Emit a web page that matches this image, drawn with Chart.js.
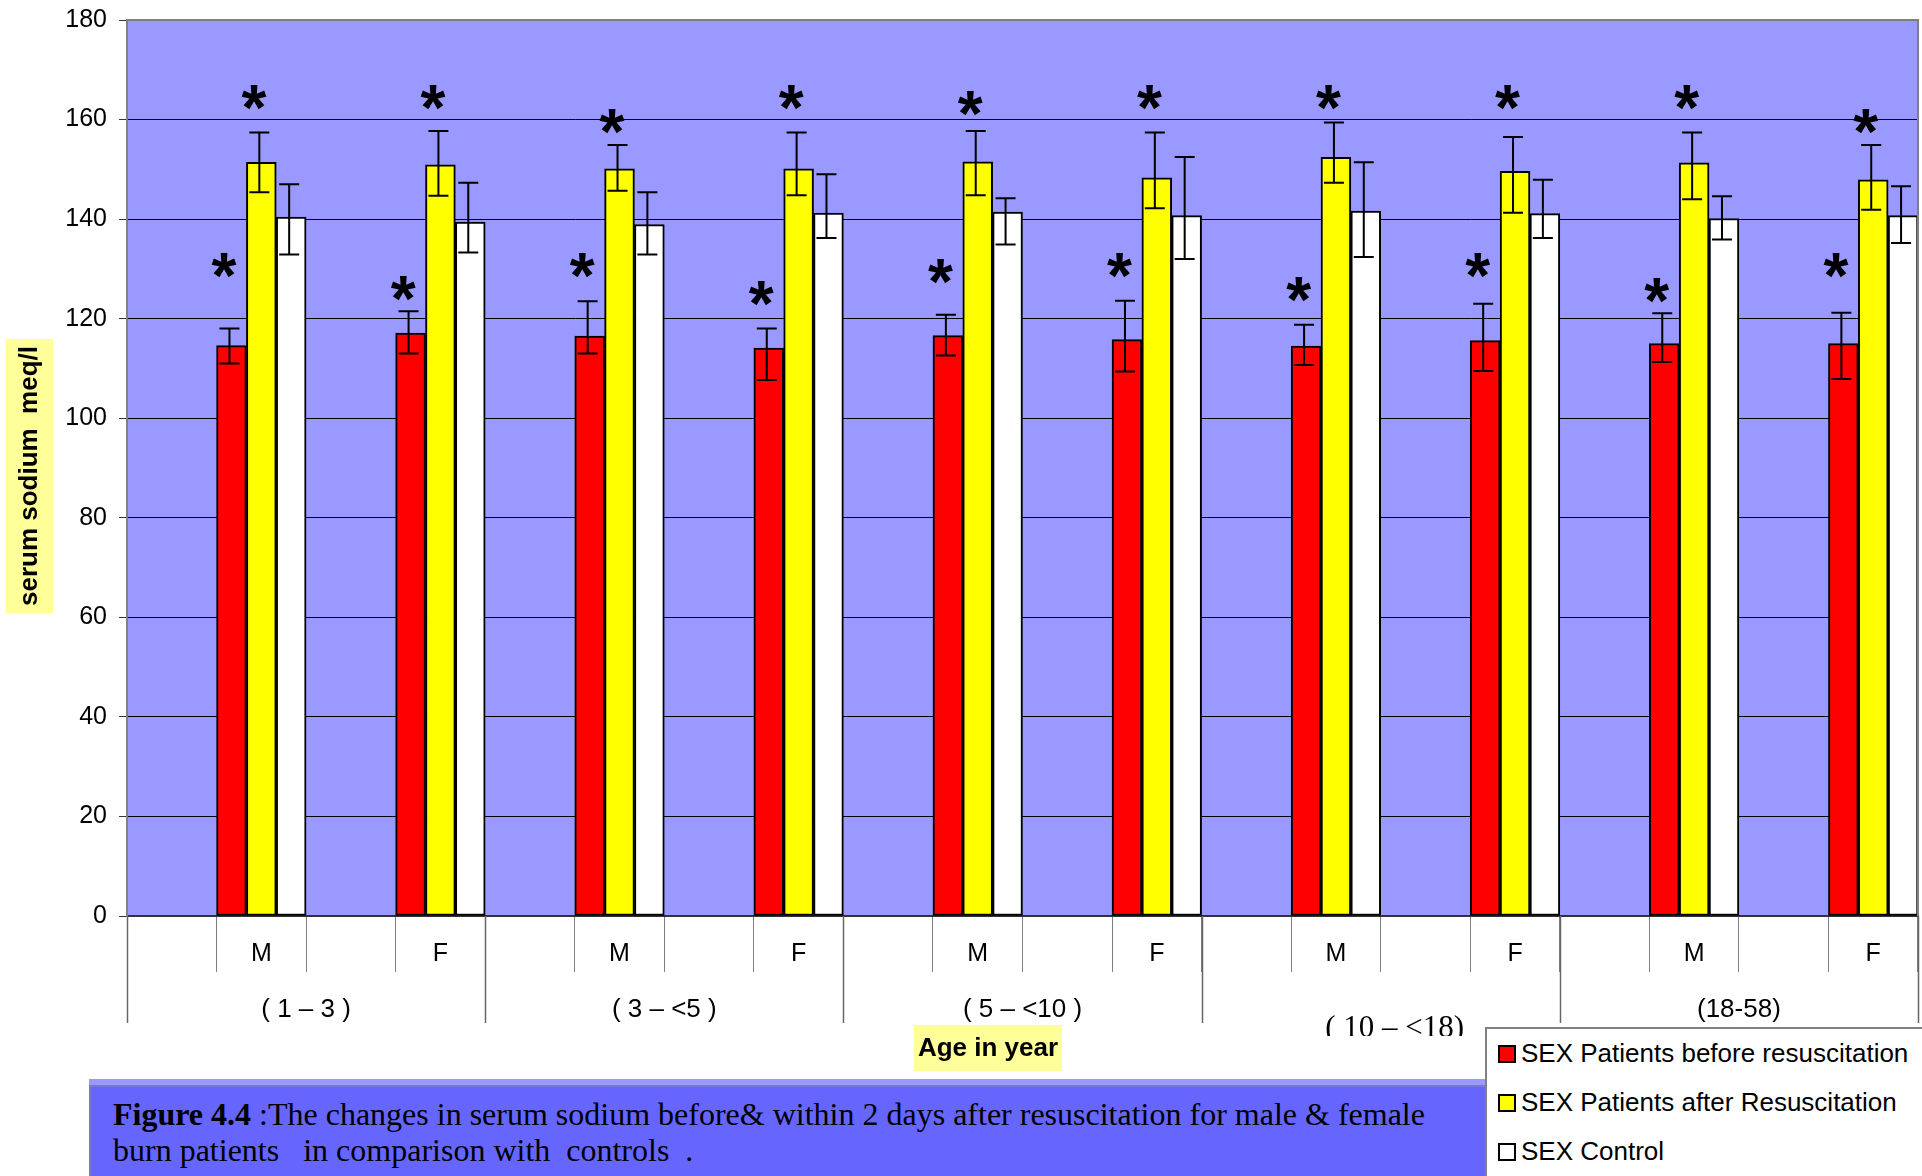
<!DOCTYPE html>
<html>
<head>
<meta charset="utf-8">
<script src="https://cdn.jsdelivr.net/npm/chart.js@4.4.1/dist/chart.umd.min.js"></script>
<style>
  body { margin: 0; background: #fff; width: 1922px; height: 1176px; overflow: hidden; position: relative; }
  #wrap { position: absolute; left: 0; top: 0; width: 1922px; height: 1176px; }
  #caption {
    position: absolute; left: 89px; top: 1079px; width: 1400px; height: 97px;
    box-sizing: border-box; background: #6666FF;
    border-top: 6px solid #9999FF; box-shadow: inset 2px 2px 0 #7777cc;
    padding: 11px 0 0 24px;
    font: 32px 'Liberation Serif', 'Times New Roman', serif; line-height: 36px;
    color: #000; white-space: pre;
  }
  #legend {
    position: absolute; left: 1485px; top: 1027px; width: 437px; height: 149px;
    box-sizing: border-box; background: #fff;
    border-top: 2px solid #808080; border-left: 2px solid #808080;
    font: 26px 'Liberation Sans', Arial, sans-serif; color: #000;
  }
  #legend .item { height: 49px; display: flex; align-items: center; white-space: nowrap; }
  #legend .box { width: 18px; height: 18px; box-sizing: border-box; border: 2px solid #000; margin: 0 5px 0 11px; }
</style>
</head>
<body>
<div id="wrap"><canvas id="sodiumChart" width="1922" height="1176"></canvas></div>
<div id="caption"><b>Figure 4.4</b> :The changes in serum sodium before&amp; within 2 days after resuscitation for male &amp; female
burn patients   in comparison with  controls  .</div>
<div id="legend"></div>
<script>
// 1. CATEGORIES (Excel layout: blank / M / blank / F per age group)
const sexLabels = ['', 'M', '', 'F', '', 'M', '', 'F', '', 'M', '', 'F', '', 'M', '', 'F', '', 'M', '', 'F'];
const ageGroups = ['( 1 \u2013 3 )', '( 3 \u2013 <5 )', '( 5 \u2013 <10 )', '( 10 \u2013 <18)', '(18-58)'];
const yTitle = 'serum sodium  meq/l';
const xTitle = 'Age in year';

// 2. SERIES VALUES (meq/l)
const beforeVals = [null, 114.6, null, 117.1, null, 116.5, null, 114.1, null, 116.6, null, 115.8, null, 114.5, null, 115.6, null, 115.0, null, 115.0];
const beforeHigh = [null, 118.0, null, 121.5, null, 123.5, null, 118.0, null, 120.8, null, 123.6, null, 118.8, null, 123.0, null, 121.1, null, 121.2];
const beforeLow  = [null, 111.0, null, 113.0, null, 113.0, null, 107.7, null, 112.6, null, 109.4, null, 110.7, null, 109.5, null, 111.3, null, 107.9];

const afterVals = [null, 151.4, null, 150.9, null, 150.1, null, 150.1, null, 151.5, null, 148.3, null, 152.4, null, 149.6, null, 151.3, null, 147.9];
const afterHigh = [null, 157.4, null, 157.7, null, 154.9, null, 157.4, null, 157.7, null, 157.4, null, 159.4, null, 156.5, null, 157.4, null, 154.9];
const afterLow  = [null, 145.4, null, 144.7, null, 145.7, null, 144.8, null, 144.8, null, 142.2, null, 147.3, null, 141.3, null, 144.0, null, 141.9];

const controlVals = [null, 140.4, null, 139.4, null, 138.9, null, 141.2, null, 141.4, null, 140.7, null, 141.6, null, 141.1, null, 140.1, null, 140.7];
const controlHigh = [null, 147.0, null, 147.3, null, 145.4, null, 149.0, null, 144.2, null, 152.5, null, 151.4, null, 147.9, null, 144.6, null, 146.6];
const controlLow  = [null, 132.9, null, 133.3, null, 132.9, null, 136.2, null, 134.9, null, 132.0, null, 132.4, null, 136.2, null, 135.9, null, 135.2];

// significance asterisks (level where the * sits)
const beforeStars = [null, 130.8, null, 126.2, null, 130.8, null, 125.1, null, 129.6, null, 130.8, null, 126.0, null, 130.8, null, 125.8, null, 130.8];
const afterStars  = [null, 164.5, null, 164.5, null, 159.7, null, 164.5, null, 163.3, null, 164.5, null, 164.5, null, 164.5, null, 164.5, null, 159.7];

const yMin = 0, yMax = 180, yStep = 20;

Chart.defaults.font.family = "'Liberation Sans', Arial, sans-serif";
Chart.defaults.color = '#000';

// 3. PLUGINS
const plotBackground = {
  id: 'plotBackground',
  beforeDraw(chart) {
    const { ctx, chartArea: a } = chart;
    ctx.save();
    ctx.fillStyle = '#9999FF';
    ctx.fillRect(a.left, a.top, a.right - a.left, a.bottom - a.top);
    ctx.restore();
  },
  afterDraw(chart) {
    const { ctx, chartArea: a } = chart;
    ctx.save();
    ctx.strokeStyle = '#808080';
    ctx.lineWidth = 2;
    ctx.beginPath();
    ctx.moveTo(a.left, a.top);
    ctx.lineTo(a.right, a.top);
    ctx.lineTo(a.right, a.bottom);
    ctx.stroke();
    ctx.restore();
  }
};

const errorBars = {
  id: 'errorBars',
  afterDatasetsDraw(chart) {
    const ctx = chart.ctx;
    const y = chart.scales.y;
    ctx.save();
    ctx.strokeStyle = '#000';
    ctx.lineWidth = 2;
    chart.data.datasets.forEach((ds, i) => {
      chart.getDatasetMeta(i).data.forEach((bar, j) => {
        if (ds.data[j] == null) return;
        const hi = y.getPixelForValue(ds.errHigh[j]);
        const lo = y.getPixelForValue(ds.errLow[j]);
        const x = bar.x - 2;
        const cap = 10;
        ctx.beginPath();
        ctx.moveTo(x, hi); ctx.lineTo(x, lo);
        ctx.moveTo(x - cap, hi); ctx.lineTo(x + cap, hi);
        ctx.moveTo(x - cap, lo); ctx.lineTo(x + cap, lo);
        ctx.stroke();
      });
      if (ds.stars) {
        ctx.fillStyle = '#000';
        ctx.font = "bold 64px 'Liberation Sans', Arial, sans-serif";
        ctx.textAlign = 'center';
        ctx.textBaseline = 'alphabetic';
        chart.getDatasetMeta(i).data.forEach((bar, j) => {
          if (ds.stars[j] == null) return;
          const sx = bar.x - bar.width * 0.25;
          const sy = y.getPixelForValue(ds.stars[j]);
          ctx.fillText('*', sx, sy + 33);
        });
      }
    });
    ctx.restore();
  }
};

const axisExtras = {
  id: 'axisExtras',
  afterDraw(chart) {
    const { ctx, chartArea: a } = chart;
    const x = chart.scales.x;
    const perGroup = sexLabels.length / ageGroups.length;
    const catW = (x.right - x.left) / sexLabels.length;
    ctx.save();
    // group separators
    ctx.strokeStyle = '#666';
    ctx.lineWidth = 1.5;
    for (let k = 0; k <= ageGroups.length; k++) {
      const gx = Math.round(x.left + k * perGroup * catW) + 0.5;
      ctx.beginPath();
      ctx.moveTo(gx, a.bottom);
      ctx.lineTo(gx, a.bottom + 107);
      ctx.stroke();
    }
    // group labels
    ctx.fillStyle = '#000';
    ctx.textAlign = 'center';
    ageGroups.forEach((g, k) => {
      const cx = x.left + (k + 0.5) * perGroup * catW;
      if (g.indexOf('10 \u2013') >= 0) {
        // this one was typed in Times in the original and is cut off at the bottom
        ctx.save();
        ctx.beginPath();
        ctx.rect(0, 0, chart.width, a.bottom + 120);
        ctx.clip();
        ctx.font = "31px 'Liberation Serif', 'Times New Roman', serif";
        ctx.textBaseline = 'alphabetic';
        ctx.fillText(g, cx + 14, a.bottom + 121);
        ctx.restore();
      } else {
        ctx.font = "26px 'Liberation Sans', Arial, sans-serif";
        ctx.textBaseline = 'middle';
        ctx.fillText(g, cx, a.bottom + 94);
      }
    });
    // x title on yellow box
    ctx.fillStyle = '#FFFF99';
    ctx.fillRect(914, a.bottom + 109, 148, 46);
    ctx.fillStyle = '#000';
    ctx.font = "bold 26px 'Liberation Sans', Arial, sans-serif";
    ctx.textBaseline = 'middle';
    ctx.fillText(xTitle, 988, a.bottom + 133);
    // y title on yellow box
    ctx.fillStyle = '#FFFF99';
    ctx.fillRect(6, 339, 47, 274);
    ctx.translate(30, 476);
    ctx.rotate(-Math.PI / 2);
    ctx.fillStyle = '#000';
    ctx.fillText(yTitle, 0, 0);
    ctx.restore();
  }
};

// 4. THE CHART
const sodiumChart = new Chart(document.getElementById('sodiumChart'), {
  type: 'bar',
  data: {
    labels: sexLabels,
    datasets: [
      { label: 'SEX Patients before resuscitation', data: beforeVals, errHigh: beforeHigh, errLow: beforeLow, stars: beforeStars, backgroundColor: '#FF0000' },
      { label: 'SEX Patients after Resuscitation', data: afterVals, errHigh: afterHigh, errLow: afterLow, stars: afterStars, backgroundColor: '#FFFF00' },
      { label: 'SEX Control', data: controlVals, errHigh: controlHigh, errLow: controlLow, backgroundColor: '#FFFFFF' }
    ]
  },
  options: {
    responsive: false,
    animation: false,
    layout: { padding: { left: 0, right: 4, top: 20, bottom: 0 } },
    datasets: {
      bar: { borderColor: '#000', borderWidth: 2, borderSkipped: false, barPercentage: 1, categoryPercentage: 1 }
    },
    plugins: { legend: { display: false }, tooltip: { enabled: false } },
    scales: {
      x: {
        offset: true,
        grid: { offset: true, drawOnChartArea: false, drawTicks: true, tickLength: 56, color: '#808080', lineWidth: 1 },
        border: { color: '#333', width: 2 },
        ticks: { font: { size: 25 }, color: '#000', padding: -33, maxRotation: 0, autoSkip: false },
        afterFit: (s) => { s.height = 260; s.paddingLeft = 0; s.paddingRight = 0; }
      },
      y: {
        min: yMin, max: yMax,
        ticks: { stepSize: yStep, font: { size: 25 }, color: '#000', padding: 12 },
        grid: { color: (c) => c.tick && c.tick.value === yMax ? '#808080' : '#000', lineWidth: 1, tickLength: 8, tickColor: '#333' },
        border: { color: '#808080', width: 2 },
        afterFit: (s) => { s.width = 127; s.paddingTop = 0; s.paddingBottom = 0; }
      }
    }
  },
  plugins: [plotBackground, errorBars, axisExtras]
});

// 5. LEGEND (built from the chart's datasets)
const legendEl = document.getElementById('legend');
sodiumChart.data.datasets.forEach(ds => {
  const item = document.createElement('div');
  item.className = 'item';
  item.innerHTML = `<span class="box" style="background:${ds.backgroundColor}"></span><span>${ds.label}</span>`;
  legendEl.appendChild(item);
});
</script>
</body>
</html>
